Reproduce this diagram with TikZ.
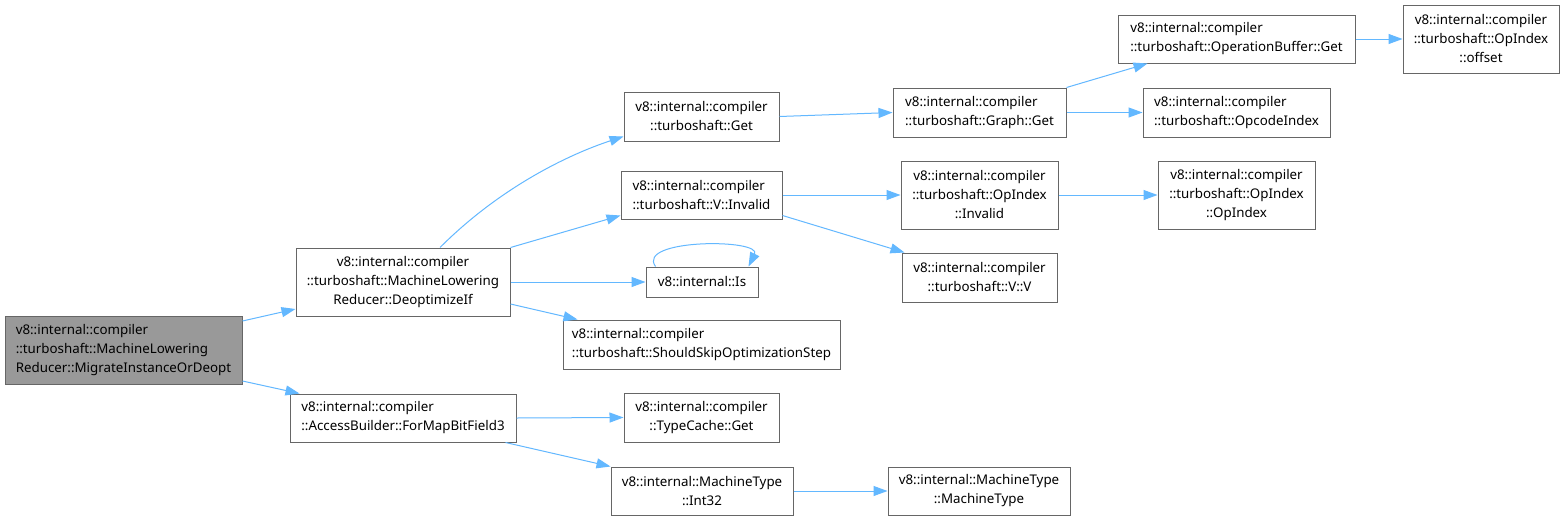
\documentclass[tikz,border=0pt]{standalone}
\usepackage{fontspec}
\setmainfont{Noto Sans}
\usetikzlibrary{arrows.meta}
\definecolor{edgeblue}{HTML}{63B8FF}
\definecolor{boxgray}{HTML}{666666}
\definecolor{rootfill}{HTML}{999999}
\newcommand{\pxu}{0.75pt}
\begin{document}
\begin{tikzpicture}[x=0.75pt,y=-0.75pt,
  fn/.style={draw=boxgray, line width=0.75pt, fill=white, inner sep=0pt,
    font=\fontsize{10}{14.25}\selectfont, text=black},
  rootfn/.style={fn, fill=rootfill},
  e/.style={draw=edgeblue, line width=0.75pt, -{Triangle[length=10.5pt,width=7.5pt]}}]
\fill[white] (0,0) rectangle (1565,521);
\useasboundingbox (0,0) rectangle (1565,521);

\node[rootfn, minimum width=237*\pxu, minimum height=68*\pxu, align=left] (root) at (123.5,350)
  {v8::internal::compiler\\::turboshaft::MachineLowering\\Reducer::MigrateInstanceOrDeopt};
\node[fn, minimum width=214*\pxu, minimum height=68*\pxu, align=center] (deopt) at (403,282)
  {v8::internal::compiler\\::turboshaft::MachineLowering\\Reducer::DeoptimizeIf};
\node[fn, minimum width=226*\pxu, minimum height=48*\pxu, align=left] (formap) at (403,418)
  {v8::internal::compiler\\::AccessBuilder::ForMapBitField3};
\node[fn, minimum width=155*\pxu, minimum height=49*\pxu, align=center] (get) at (701.5,116.5)
  {v8::internal::compiler\\::turboshaft::Get};
\node[fn, minimum width=161*\pxu, minimum height=48*\pxu, align=left] (vinvalid) at (701.5,195)
  {v8::internal::compiler\\::turboshaft::V::Invalid};
\node[fn, minimum width=112*\pxu, minimum height=30*\pxu, align=center] (is) at (702,282)
  {v8::internal::Is};
\node[fn, minimum width=277*\pxu, minimum height=49*\pxu, align=left] (skip) at (701.5,344.5)
  {v8::internal::compiler\\::turboshaft::ShouldSkipOptimizationStep};
\node[fn, minimum width=155*\pxu, minimum height=49*\pxu, align=center] (typecache) at (701.5,417.5)
  {v8::internal::compiler\\::TypeCache::Get};
\node[fn, minimum width=182*\pxu, minimum height=48*\pxu, align=center] (int32) at (702,491)
  {v8::internal::MachineType\\::Int32};
\node[fn, minimum width=173*\pxu, minimum height=49*\pxu, align=left] (graphget) at (979.5,112.5)
  {v8::internal::compiler\\::turboshaft::Graph::Get};
\node[fn, minimum width=157*\pxu, minimum height=68*\pxu, align=center] (opinvalid) at (979.5,195)
  {v8::internal::compiler\\::turboshaft::OpIndex\\::Invalid};
\node[fn, minimum width=155*\pxu, minimum height=49*\pxu, align=center] (vv) at (979.5,277.5)
  {v8::internal::compiler\\::turboshaft::V::V};
\node[fn, minimum width=182*\pxu, minimum height=48*\pxu, align=center] (mtmt) at (979,491)
  {v8::internal::MachineType\\::MachineType};
\node[fn, minimum width=237*\pxu, minimum height=48*\pxu, align=left] (opbuf) at (1236.5,39)
  {v8::internal::compiler\\::turboshaft::OperationBuffer::Get};
\node[fn, minimum width=187*\pxu, minimum height=49*\pxu, align=left] (opcode) at (1236.5,112.5)
  {v8::internal::compiler\\::turboshaft::OpcodeIndex};
\node[fn, minimum width=156*\pxu, minimum height=68*\pxu, align=center] (offset) at (1481,39)
  {v8::internal::compiler\\::turboshaft::OpIndex\\::offset};
\node[fn, minimum width=157*\pxu, minimum height=68*\pxu, align=center] (opindex) at (1236.5,195)
  {v8::internal::compiler\\::turboshaft::OpIndex\\::OpIndex};

\draw[e] ([yshift=29*\pxu]root.east) -- ([yshift=-27*\pxu]deopt.west);
\draw[e] ([yshift=-31*\pxu]root.east) -- ([xshift=10*\pxu]formap.north west);
\draw[e] ([xshift=37*\pxu]deopt.north) .. controls +(60,-60) and +(-55,18) .. ([yshift=5*\pxu]get.south west);
\draw[e] (deopt.north east) -- ([yshift=4*\pxu]vinvalid.south west);
\draw[e] (deopt.east) -- (is.west);
\draw[e] ([yshift=-22*\pxu]deopt.east) -- ([xshift=15*\pxu]skip.north west);
\draw[e] ([xshift=10*\pxu]is.north west) .. controls +(-20,-28) and +(14,-28) .. ([xshift=-10*\pxu]is.north east);
\draw[e] (formap.east) -- (typecache.west);
\draw[e] ([xshift=-11*\pxu]formap.south east) -- (int32.north west);
\draw[e] (get.east) -- (graphget.west);
\draw[e] (vinvalid.east) -- (opinvalid.west);
\draw[e] ([yshift=4*\pxu]vinvalid.south east) -- ([xshift=3*\pxu]vv.north west);
\draw[e] (graphget.north east) -- ([xshift=30*\pxu]opbuf.south west);
\draw[e] (graphget.east) -- (opcode.west);
\draw[e] (opinvalid.east) -- (opindex.west);
\draw[e] (opbuf.east) -- (offset.west);
\draw[e] (int32.east) -- (mtmt.west);
\end{tikzpicture}
\end{document}
